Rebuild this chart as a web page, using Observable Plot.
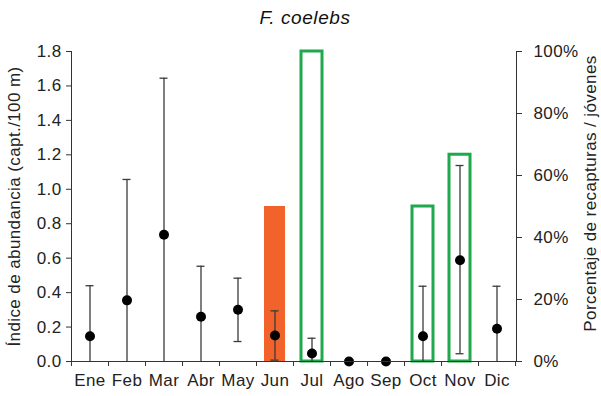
<!DOCTYPE html>
<html>
<head>
<meta charset="utf-8">
<script src="https://cdn.jsdelivr.net/npm/d3@7"></script>
<script src="https://cdn.jsdelivr.net/npm/@observablehq/plot@0.6"></script>
<style>
  body { margin: 0; background: white; }
  #wrap { position: relative; width: 601px; height: 396px; }
  #title { position: absolute; top: 7px; left: 0; width: 601px; padding-left: 9px; box-sizing: border-box;
           text-align: center; font: italic 19px "Liberation Sans", Arial, sans-serif; color: #111; letter-spacing: 0.6px; }
  svg text { letter-spacing: 0.4px; }
</style>
</head>
<body>
<div id="wrap"><div id="title">F. coelebs</div><div id="chart"></div></div>
<script>
const months = ["Ene","Feb","Mar","Abr","May","Jun","Jul","Ago","Sep","Oct","Nov","Dic"];
const abundance = [0.147,0.355,0.736,0.26,0.30,0.151,0.046,0,0,0.147,0.588,0.19];
const errLow  = [0,0,0,0,0.116,0.008,0,0,0,0,0.045,0];
const errHigh = [0.44,1.057,1.645,0.553,0.484,0.294,0.135,0,0,0.437,1.138,0.437];
const pctMonths = ["Jun","Jul","Oct","Nov"];
const pctValues = [50,100,50,66.7];
const pctKind = ["jóvenes","recapturas","recapturas","recapturas"];
const yTicks = [0,0.2,0.4,0.6,0.8,1.0,1.2,1.4,1.6,1.8];
const pctTicks = [0,20,40,60,80,100];
const yMax = 1.8;
const leftLabel = "Índice de abundancia (capt./100 m)";
const rightLabel = "Porcentaje de recapturas / jóvenes";

const pts = months.map((m,i) => ({month:m, v:abundance[i], lo:errLow[i], hi:errHigh[i]}));
const bars = pctMonths.map((m,i) => ({month:m, pct:pctValues[i], kind:pctKind[i]}));
const pctToY = p => p * yMax / 100;

const W = 601, H = 396, ml = 71, mr = 85, mt = 51, mb = 35;
const step = (W - ml - mr) / months.length;

const chart = Plot.plot({
  width: W, height: H, marginLeft: ml, marginRight: mr, marginTop: mt, marginBottom: mb,
  style: {fontFamily: "'Liberation Sans', Arial, sans-serif", fontSize: "17px", color: "#222", background: "white", overflow: "visible"},
  x: {type: "band", domain: months, paddingInner: 0.43, paddingOuter: 0.215},
  y: {domain: [0, yMax]},
  marks: [
    Plot.barY(bars.filter(d => d.kind === "jóvenes"), {x: "month", y: d => pctToY(d.pct), fill: "#F2632C"}),
    Plot.barY(bars.filter(d => d.kind === "recapturas"), {x: "month", y: d => pctToY(d.pct), fill: "none", stroke: "#1FA84C", strokeWidth: 3}),
    Plot.ruleX(pts.filter(d => d.hi > d.lo), {x: "month", y1: "lo", y2: "hi", stroke: "#3a3a3a", strokeWidth: 1.3}),
    Plot.tickY(pts.filter(d => d.hi > 0), {x: "month", y: "hi", stroke: "#3a3a3a", strokeWidth: 1.3, insetLeft: 6.5, insetRight: 6.5}),
    Plot.tickY(pts.filter(d => d.lo > 0), {x: "month", y: "lo", stroke: "#3a3a3a", strokeWidth: 1.3, insetLeft: 6.5, insetRight: 6.5}),
    Plot.dot(pts, {x: "month", y: "v", r: 5, fill: "black"}),
    Plot.axisY({anchor: "left", ticks: yTicks, tickFormat: d3.format(".1f"), tickSize: 5, tickPadding: 5, label: null, stroke: "#333"}),
    Plot.axisY({anchor: "right", ticks: pctTicks.map(pctToY), tickFormat: d => Math.round(d / yMax * 100) + "%", tickSize: 5, tickPadding: 12, label: null, stroke: "#333"}),
    Plot.axisX({anchor: "bottom", tickSize: 0, tickPadding: 12, label: null}),
    Plot.axisX({anchor: "bottom", text: null, tickSize: 5, dx: step / 2, label: null, stroke: "#333"}),
    Plot.axisX({anchor: "bottom", ticks: [months[0]], text: null, tickSize: 5, dx: -step / 2, label: null, stroke: "#333"}),
    Plot.frame({anchor: "left", stroke: "#333"}),
    Plot.frame({anchor: "right", stroke: "#333"}),
    Plot.frame({anchor: "bottom", stroke: "#333"}),
    Plot.text([leftLabel], {frameAnchor: "left", textAnchor: "middle", rotate: -90, dx: -57, fill: "#222"}),
    Plot.text([rightLabel], {frameAnchor: "right", textAnchor: "middle", rotate: -90, dx: 74, dy: -13, fill: "#222"})
  ]
});
document.getElementById("chart").appendChild(chart);
</script>
</body>
</html>
